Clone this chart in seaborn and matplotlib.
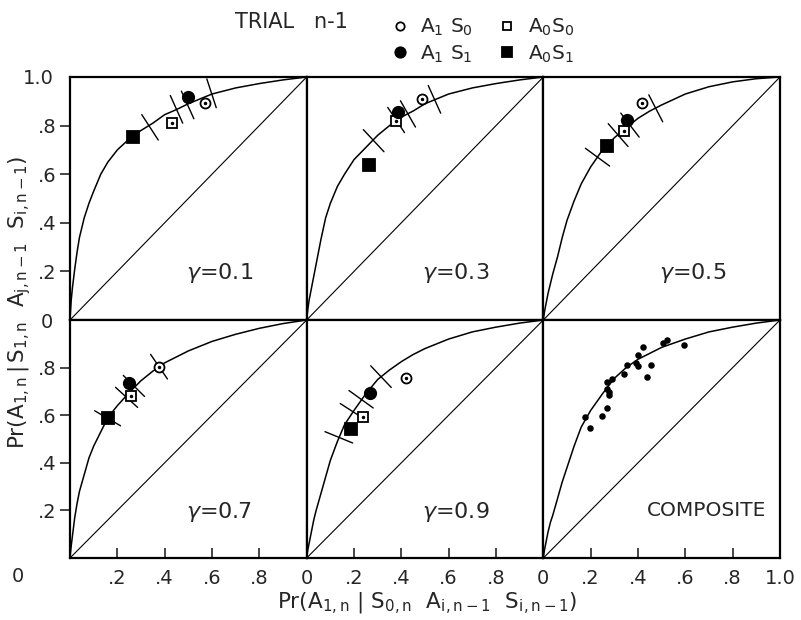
import numpy as np
import matplotlib
matplotlib.use("Agg")
import matplotlib.pyplot as plt
from matplotlib.lines import Line2D
import seaborn as sns

# ---- data ----
GAMMAS = ["0.1", "0.3", "0.5", "0.7", "0.9"]
COND_LABELS = [r"$\mathregular{A_1\ S_0}$", r"$\mathregular{A_0 S_0}$",
               r"$\mathregular{A_1\ S_1}$", r"$\mathregular{A_0 S_1}$"]

# theoretical curves (x = false alarm rate, y = hit rate)
CURVE_X = [0, .005, .01, .02, .03, .04, .06, .08, .10, .13, .16, .20, .25,
           .30, .35, .40, .45, .50, .60, .70, .80, .90, 1.0]
CURVE_G1 = [0, .08, .13, .21, .28, .34, .42, .48, .53, .60, .65, .70, .745,
            .78, .81, .845, .866, .89, .93, .955, .973, .988, 1.0]
CURVE_G3 = [0, .045, .08, .13, .18, .23, .33, .42, .48, .55, .60, .66, .71,
            .76, .80, .835, .86, .89, .93, .955, .973, .988, 1.0]
CURVE_G5 = [0, .035, .06, .11, .15, .19, .26, .34, .41, .49, .56, .63, .70,
            .75, .79, .83, .86, .885, .93, .96, .98, .993, 1.0]
CURVE_G7 = [0, .05, .09, .17, .23, .28, .35, .42, .47, .53, .59, .64, .695,
            .745, .785, .82, .845, .87, .91, .94, .965, .985, 1.0]
CURVE_G9 = [0, .035, .06, .11, .16, .20, .27, .34, .41, .49, .56, .62, .69,
            .75, .79, .825, .855, .88, .92, .95, .97, .987, 1.0]
CURVE_COMP = [0, .035, .06, .11, .15, .18, .25, .32, .38, .47, .55, .62, .69,
              .755, .80, .835, .86, .885, .92, .95, .97, .987, 1.0]
DIAG = [0, 1]

# observed points, order: A1S0, A0S0, A1S1, A0S1
OBS_X_G1 = [.572, .429, .500, .267]
OBS_Y_G1 = [.892, .812, .919, .754]
OBS_X_G3 = [.488, .376, .388, .262]
OBS_Y_G3 = [.908, .820, .857, .638]
OBS_X_G5 = [.419, .342, .352, .269]
OBS_Y_G5 = [.892, .779, .823, .716]
OBS_X_G7 = [.376, .257, .249, .159]
OBS_Y_G7 = [.804, .681, .737, .587]
OBS_X_G9 = [.418, .238, .269, .186]
OBS_Y_G9 = [.755, .591, .692, .542]

# predicted points (cross marks on the curve)
PRED_X_G1 = [.338, .450, .497, .598]
PRED_Y_G1 = [.793, .867, .885, .933]
PRED_X_G3 = [.283, .378, .428, .540]
PRED_Y_G3 = [.738, .823, .848, .908]
PRED_X_G5 = [.229, .316, .366, .475]
PRED_Y_G5 = [.670, .761, .802, .871]
PRED_X_G7 = [.159, .239, .270, .376]
PRED_Y_G7 = [.587, .675, .723, .804]
PRED_X_G9 = [.136, .195, .230, .314]
PRED_Y_G9 = [.507, .615, .667, .762]

# composite scatter
COMP_X = [.176, .197, .246, .270, .269, .278, .278, .271, .290, .339,
          .352, .391, .402, .402, .422, .437, .454, .506, .522, .595]
COMP_Y = [.594, .546, .597, .629, .711, .699, .685, .741, .751, .772,
          .811, .818, .807, .853, .885, .762, .811, .902, .916, .895]

curves = [CURVE_G1, CURVE_G3, CURVE_G5, CURVE_G7, CURVE_G9]
obs = [(OBS_X_G1, OBS_Y_G1), (OBS_X_G3, OBS_Y_G3), (OBS_X_G5, OBS_Y_G5),
       (OBS_X_G7, OBS_Y_G7), (OBS_X_G9, OBS_Y_G9)]
preds = [(PRED_X_G1, PRED_Y_G1), (PRED_X_G3, PRED_Y_G3), (PRED_X_G5, PRED_Y_G5),
         (PRED_X_G7, PRED_Y_G7), (PRED_X_G9, PRED_Y_G9)]

sns.set_style("white")
plt.rcParams["font.family"] = ["DejaVu Sans"]
plt.rcParams["mathtext.fontset"] = "dejavusans"

fig = plt.figure(figsize=(8.01, 6.20), dpi=100)
gs = fig.add_gridspec(2, 3, left=70/801, right=780/801, top=1-77/620,
                      bottom=1-558/620, wspace=0, hspace=0,
                      height_ratios=[243, 238])
axes = [fig.add_subplot(gs[i, j]) for i in range(2) for j in range(3)]

MARKERS = ["o", "s", "o", "s"]
FILLED = [False, False, True, True]
SIZES = [7.2, 6.8, 8.2, 8.5]
PX_X, PX_Y = 237.0, 240.0   # panel size in pixels (x, y)
HALF_LEN = 15.0             # half length of cross marks in pixels


def draw_panel(ax, cy):
    sns.lineplot(x=DIAG, y=DIAG, ax=ax, color="k", lw=0.8, sort=False)
    sns.lineplot(x=CURVE_X, y=cy, ax=ax, color="k", lw=1.1, sort=False,
                 estimator=None)


for k in range(6):
    ax = axes[k]
    if k < 5:
        cy = curves[k]
        draw_panel(ax, cy)
        # cross marks perpendicular to the curve (in screen space)
        slope = np.gradient(np.array(cy, float), np.array(CURVE_X, float))
        px, py = preds[k]
        for x, y in zip(px, py):
            m = np.interp(x, CURVE_X, slope)
            nx, ny = -m * PX_Y, PX_X      # normal in pixel space
            norm = np.hypot(nx, ny)
            dx = HALF_LEN * nx / norm / PX_X
            dy = HALF_LEN * ny / norm / PX_Y
            ax.plot([x - dx, x + dx], [y - dy, y + dy], color="k", lw=1.0)
        ox, oy = obs[k]
        for i in range(4):
            ax.plot(ox[i], oy[i], marker=MARKERS[i], ms=SIZES[i], ls="none",
                    mfc="k" if FILLED[i] else "white", mec="k", mew=1.3)
            if not FILLED[i]:
                ax.plot(ox[i], oy[i], marker="o", ms=1.5, color="k", ls="none")
        ax.text(0.63, 0.195, r"$\gamma$=" + GAMMAS[k], transform=ax.transAxes,
                ha="center", va="center", fontsize=16)
    else:
        draw_panel(ax, CURVE_COMP)
        sns.scatterplot(x=COMP_X, y=COMP_Y, ax=ax, color="k", s=22,
                        edgecolor="k", linewidth=0)
        ax.text(0.69, 0.20, "COMPOSITE", transform=ax.transAxes,
                ha="center", va="center", fontsize=14.5)
    ax.set_xlim(0, 1)
    ax.set_ylim(0, 1)
    ax.set_xticks([])
    ax.set_yticks([])
    ax.set_xlabel("")
    ax.set_ylabel("")
    for sp in ax.spines.values():
        sp.set_linewidth(1.6)
        sp.set_color("k")

TICKS = [.2, .4, .6, .8]
TICK_LABELS = [".2", ".4", ".6", ".8"]

# y axes
for ax, extra, extra_lab in [(axes[0], [0, 1.0], ["0", "1.0"]), (axes[3], [], [])]:
    ax.set_yticks(TICKS)
    ax.set_yticklabels(TICK_LABELS)
    ax.set_yticks(extra, minor=True)
    ax.set_yticklabels(extra_lab, minor=True)
    ax.tick_params(axis="y", which="major", direction="out", length=7,
                   width=1.2, pad=3, labelsize=14, left=True)
    ax.tick_params(axis="y", which="minor", length=0, pad=12, labelsize=14,
                   left=True)

# x axes
for ax, extra, extra_lab in [(axes[3], [], []), (axes[4], [0], ["0"]),
                             (axes[5], [0, 1.0], ["0", "1.0"])]:
    ax.set_xticks(TICKS)
    ax.set_xticklabels(TICK_LABELS)
    ax.set_xticks(extra, minor=True)
    ax.set_xticklabels(extra_lab, minor=True)
    ax.tick_params(axis="x", which="major", direction="in", length=7,
                   width=1.2, pad=8, labelsize=14, bottom=True)
    ax.tick_params(axis="x", which="minor", length=0, pad=8, labelsize=14,
                   bottom=True)

fig.text(18/801, 1-577/620, "0", fontsize=14, ha="center", va="center")

fig.text(427/801, 1-603/620,
         r"$\mathregular{Pr(A_{1,n}\ |\ S_{0,n}\ \ A_{i,n-1}\ \ S_{i,n-1})}$",
         fontsize=15.5, ha="center", va="center")
fig.text(20/801, 1-302/620,
         r"$\mathregular{Pr(A_{1,n}\,|\,S_{1,n}\ \ A_{j,n-1}\ \ S_{i,n-1})}$",
         fontsize=15.5, ha="center", va="center", rotation=90)

# legend
fig.text(235/801, 1-22/620, "TRIAL   n-1", fontsize=15, ha="left",
         va="center")
LEG_SIZES = [6, 6, 7.5, 7.2]
handles = []
for i in range(4):
    handles.append(Line2D([], [], marker=MARKERS[i], ls="none",
                          ms=LEG_SIZES[i], mec="k", mew=1.3,
                          mfc="k" if FILLED[i] else "white"))
order = [0, 2, 1, 3]
fig.legend([handles[i] for i in order], [COND_LABELS[i] for i in order],
           ncol=2, loc="center left", bbox_to_anchor=(382/801, 1-41/620),
           frameon=False, fontsize=14.5, handlelength=0.8, handletextpad=0.6,
           columnspacing=1.3, labelspacing=0.25, borderpad=0)

fig.savefig("out.png", dpi=100)
